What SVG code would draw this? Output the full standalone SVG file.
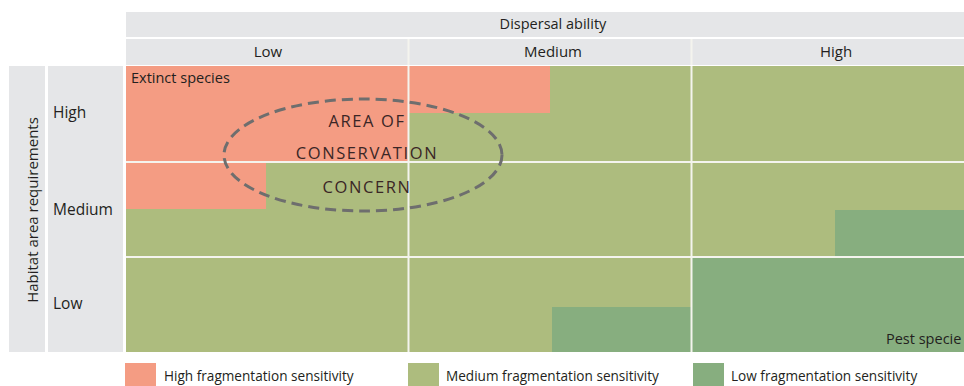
<svg xmlns="http://www.w3.org/2000/svg" width="964" height="386" viewBox="0 0 964 386">
  <style>
    .hdr { fill: #e5e6e8; }
    .hi { fill: #f49c83; }
    .md { fill: #adbc7e; }
    .lo { fill: #87ae7f; }
    .sep { stroke: #f4f4ee; stroke-width: 2; }
    text { font-family: "Open Sans", "Noto Sans", "Liberation Sans", sans-serif; fill: #231f20; font-size: 13.6px; }
    .ctr { text-anchor: middle; }
    .big { font-size: 15px; }
    .row { font-size: 15.5px; }
    .note { font-size: 14.5px; }
    .zone { font-size: 16.5px; letter-spacing: 1.6px; fill: #3a2626; text-anchor: middle; }
  </style>
  <rect width="964" height="386" fill="#ffffff"/>

  <!-- column headings -->
  <g id="col-headings">
    <rect class="hdr" x="126" y="12" width="838" height="25"/>
    <rect class="hdr" x="126" y="39" width="838" height="26"/>
    <line class="sep" x1="408.5" y1="39" x2="408.5" y2="65"/>
    <line class="sep" x1="691.5" y1="39" x2="691.5" y2="65"/>
    <text class="ctr" x="553" y="29" style="font-size:14.5px">Dispersal ability</text>
    <text class="ctr big" x="268" y="57">Low</text>
    <text class="ctr big" x="553" y="57">Medium</text>
    <text class="ctr big" x="836" y="57">High</text>
  </g>

  <!-- row headings -->
  <g id="row-headings">
    <rect class="hdr" x="9" y="66" width="36" height="286"/>
    <rect class="hdr" x="48" y="66" width="75" height="286"/>
    <text class="ctr big" transform="translate(38 210) rotate(-90)">Habitat area requirements</text>
    <text class="row" x="53" y="118">High</text>
    <text class="row" x="53" y="215">Medium</text>
    <text class="row" x="53" y="309">Low</text>
  </g>

  <!-- sensitivity cells -->
  <g id="cells">
    <rect class="md" x="126" y="66" width="838" height="286"/>
    <rect class="hi" x="126" y="66" width="283" height="96"/>
    <rect class="hi" x="409" y="66" width="141" height="47"/>
    <rect class="hi" x="126" y="162" width="140" height="47"/>
    <rect class="lo" x="835" y="210" width="129" height="47"/>
    <rect class="lo" x="552" y="307" width="140" height="45"/>
    <rect class="lo" x="692" y="257" width="272" height="95"/>
    <line class="sep" x1="408.5" y1="66" x2="408.5" y2="352"/>
    <line class="sep" x1="691.5" y1="66" x2="691.5" y2="352"/>
    <line class="sep" x1="126" y1="162" x2="964" y2="162"/>
    <line class="sep" x1="126" y1="257" x2="964" y2="257"/>
    <text class="note" x="131" y="83">Extinct species</text>
    <text class="note" x="886" y="344">Pest specie</text>
  </g>

  <!-- area of conservation concern -->
  <g id="conservation-zone">
    <ellipse cx="363" cy="155" rx="139" ry="56" fill="none" stroke="#6e6e6e" stroke-width="3" stroke-dasharray="11 6"/>
    <text class="zone" x="367" y="127">AREA OF</text>
    <text class="zone" x="367" y="159">CONSERVATION</text>
    <text class="zone" x="367" y="193">CONCERN</text>
  </g>

  <!-- legend -->
  <g id="legend">
    <rect class="hi" x="125" y="363" width="31" height="23"/>
    <text x="164" y="381">High fragmentation sensitivity</text>
    <rect class="md" x="408" y="363" width="31" height="23"/>
    <text x="446" y="381">Medium fragmentation sensitivity</text>
    <rect class="lo" x="693" y="363" width="31" height="23"/>
    <text x="731" y="381">Low fragmentation sensitivity</text>
  </g>
</svg>
